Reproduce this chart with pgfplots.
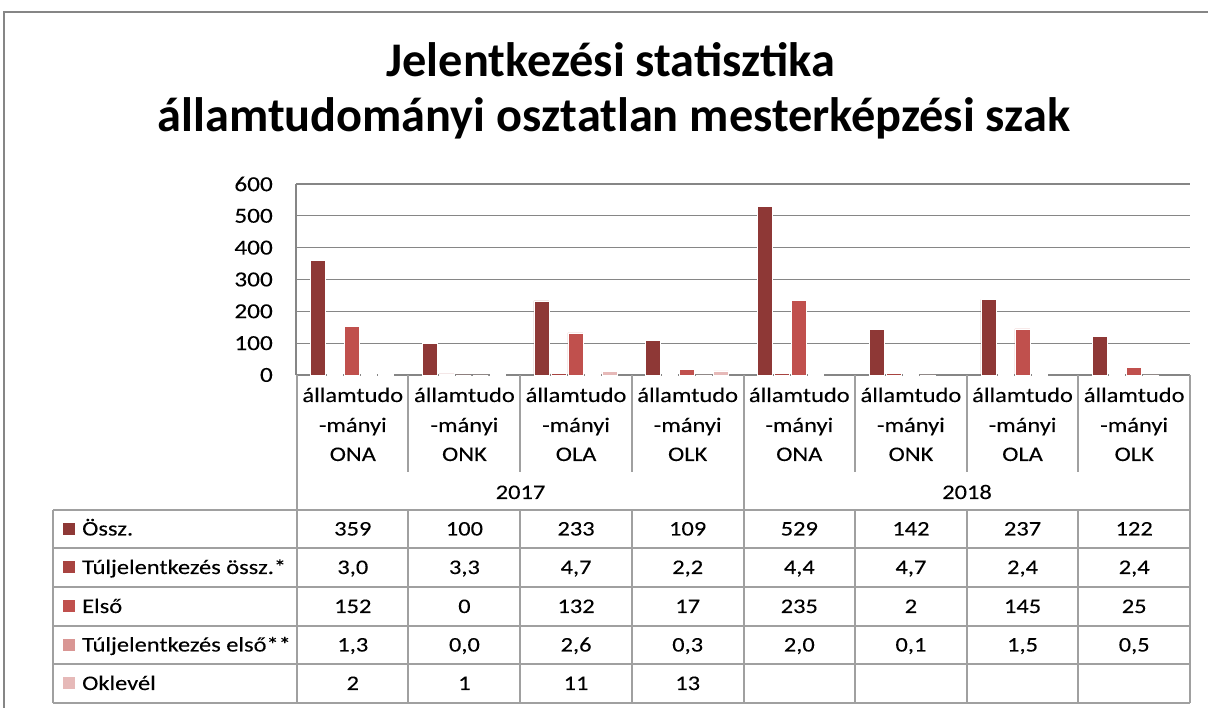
\documentclass[border=0pt]{standalone}
\usepackage{fontspec}
\setmainfont{Carlito}
\newfontfamily\sm{Carlito}[FakeStretch=1.18, FakeBold=0.1]
\usepackage{pgfplots}
\pgfplotsset{compat=1.18}
\definecolor{cOssz}{RGB}{142,56,54}
\definecolor{cTulj}{RGB}{168,67,64}
\definecolor{cElso}{RGB}{192,80,77}
\definecolor{cTuljE}{RGB}{217,150,148}
\definecolor{cOkl}{RGB}{230,185,184}
\definecolor{gridc}{RGB}{134,134,134}
\definecolor{tabc}{RGB}{160,160,160}
\begin{document}
\begin{tikzpicture}[x=1bp,y=1bp]
\useasboundingbox (0,0) rectangle (1208,708);
\draw[gridc, line width=2bp] (4,0) -- (4,696) -- (1208,696);
\node[anchor=base, inner sep=0pt, font=\bfseries\fontsize{48.5}{48}\selectfont] at (611,631) {Jelentkezési statisztika};
\node[anchor=base, inner sep=0pt, font=\bfseries\fontsize{48.5}{48}\selectfont] at (614,576) {államtudományi osztatlan mesterképzési szak};
\begin{axis}[at={(296bp,333bp)}, anchor=south west, scale only axis,
  width=894bp, height=191bp,
  xmin=-0.5, xmax=7.5, ymin=0, ymax=600,
  ytick={0,100,...,600}, xtick=\empty,
  ymajorgrids, grid style={gridc, line width=1.2bp},
  axis x line*=bottom, axis y line*=left,
  axis line style={gridc, line width=1.2bp, -},
  major tick length=0pt,
  yticklabel style={font=\sm\fontsize{21.5}{21}\selectfont, inner sep=0pt, xshift=-23bp, text=black},
  /pgf/number format/assume math mode=true,
  ybar=2bp, bar width=15bp,
  every axis plot/.append style={draw=white, line width=0.6bp},
  clip=false]
\addplot[fill=cOssz] coordinates {(0,359)(1,100)(2,233)(3,109)(4,529)(5,142)(6,237)(7,122)};
\addplot[fill=cTulj] coordinates {(0,3.0)(1,3.3)(2,4.7)(3,2.2)(4,4.4)(5,4.7)(6,2.4)(7,2.4)};
\addplot[fill=cElso] coordinates {(0,152)(1,0)(2,132)(3,17)(4,235)(5,2)(6,145)(7,25)};
\addplot[fill=cTuljE] coordinates {(0,1.3)(1,0.0)(2,2.6)(3,0.3)(4,2.0)(5,0.1)(6,1.5)(7,0.5)};
\addplot[fill=cOkl] coordinates {(0,2)(1,1)(2,11)(3,13)};
\end{axis}
% table lines
\begin{scope}[tabc, line width=1.2bp]
\foreach \yy in {198,160,121,82,44,5} \draw (53,\yy) -- (1190,\yy);
\draw (53,5) -- (53,198);
\foreach \xx in {297,744,1190} \draw (\xx,5) -- (\xx,333);
\foreach \xx in {408,520,632,855,967,1078} {\draw (\xx,236) -- (\xx,333); \draw (\xx,5) -- (\xx,198);}
\end{scope}
\begin{scope}[every node/.style={anchor=base, inner sep=0pt, font=\sm\fontsize{20.8}{21}\selectfont, text=black}]
\foreach \c [count=\i from 0] in {ONA,ONK,OLA,OLK,ONA,ONK,OLA,OLK} {
  \pgfmathsetmacro\cx{297+111.625*(\i+0.5)}
  \node at (\cx,306) {államtudo};
  \node at (\cx,276) {-mányi};
  \node at (\cx,247) {\c};
}
\node at (520.5,209) {2017};
\node at (967,209) {2018};
\foreach \v [count=\i from 0] in {359,100,233,109,529,142,237,122} {
  \pgfmathsetmacro\cx{297+111.625*(\i+0.5)} \node at (\cx,172.5) {\v};}
\foreach \v [count=\i from 0] in {{3,0},{3,3},{4,7},{2,2},{4,4},{4,7},{2,4},{2,4}} {
  \pgfmathsetmacro\cx{297+111.625*(\i+0.5)} \node at (\cx,134) {\v};}
\foreach \v [count=\i from 0] in {152,0,132,17,235,2,145,25} {
  \pgfmathsetmacro\cx{297+111.625*(\i+0.5)} \node at (\cx,95) {\v};}
\foreach \v [count=\i from 0] in {{1,3},{0,0},{2,6},{0,3},{2,0},{0,1},{1,5},{0,5}} {
  \pgfmathsetmacro\cx{297+111.625*(\i+0.5)} \node at (\cx,56.5) {\v};}
\foreach \v [count=\i from 0] in {2,1,11,13} {
  \pgfmathsetmacro\cx{297+111.625*(\i+0.5)} \node at (\cx,18) {\v};}
% legend
\fill[cOssz] (63,173) rectangle (75,185);
\fill[cTulj] (63,134.5) rectangle (75,146.5);
\fill[cElso] (63,95.5) rectangle (75,107.5);
\fill[cTuljE] (63,57) rectangle (75,69);
\fill[cOkl] (63,18.5) rectangle (75,30.5);
\node[anchor=base west] at (82,172.5) {Össz.};
\node[anchor=base west] at (82,134) {Túljelentkezés össz.*};
\node[anchor=base west] at (82,95) {Első};
\node[anchor=base west] at (82,56.5) {Túljelentkezés első**};
\node[anchor=base west] at (82,18) {Oklevél};
\end{scope}
\end{tikzpicture}
\end{document}
